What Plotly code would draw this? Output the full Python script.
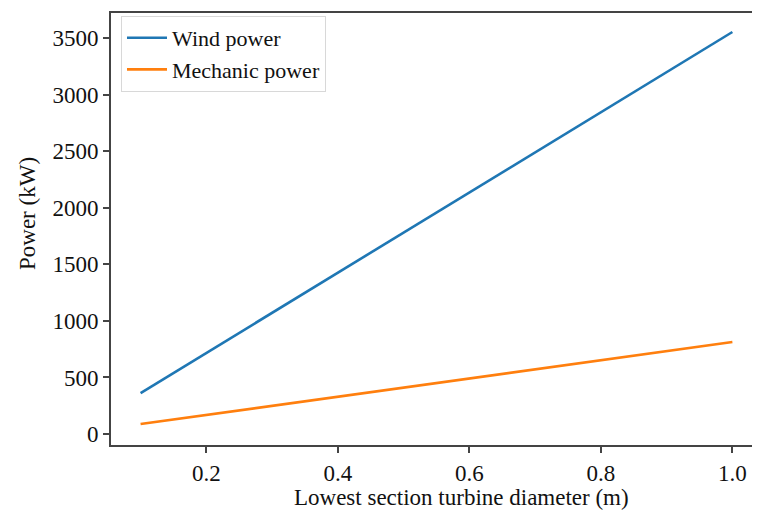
import plotly.graph_objects as go

diameter = [0.1, 0.2, 0.3, 0.4, 0.5, 0.6, 0.7, 0.8, 0.9, 1.0]
wind_power = [362, 717, 1071, 1426, 1780, 2135, 2490, 2844, 3199, 3553]
mechanic_power = [88, 169, 249, 330, 410, 491, 571, 652, 732, 813]
x_ticks = [0.2, 0.4, 0.6, 0.8, 1.0]
x_tick_labels = ["0.2", "0.4", "0.6", "0.8", "1.0"]
y_ticks = [0, 500, 1000, 1500, 2000, 2500, 3000, 3500]
y_tick_labels = ["0", "500", "1000", "1500", "2000", "2500", "3000", "3500"]

FONT = "Liberation Serif, Times New Roman, serif"
AX = "#444444"
FS = 23

fig = go.Figure()
fig.add_trace(go.Scatter(x=diameter, y=wind_power, mode="lines", name="Wind power",
                         line=dict(color="#1f77b4", width=2.6)))
fig.add_trace(go.Scatter(x=diameter, y=mechanic_power, mode="lines", name="Mechanic power",
                         line=dict(color="#ff7f0e", width=2.6)))

fig.update_layout(
    width=752, height=508,
    margin=dict(l=103, r=0, t=5, b=71, autoexpand=False),
    paper_bgcolor="white", plot_bgcolor="white",
    font=dict(family=FONT, size=FS, color="#111111"),
    showlegend=True,
    legend=dict(x=0.0154, y=0.993, xanchor="left", yanchor="top",
                bgcolor="white", bordercolor="#d8d8d8", borderwidth=1,
                font=dict(size=22), tracegroupgap=0, itemwidth=40,
                entrywidth=240, entrywidthmode="pixels"),
    xaxis=dict(range=[0.055, 1.042], tickvals=x_ticks, ticktext=x_tick_labels,
               automargin=False,
               showgrid=False, zeroline=False, showline=True, linecolor=AX, linewidth=2,
               mirror=True, ticks="outside", ticklen=6, tickwidth=1.5, tickcolor=AX,
               tickfont=dict(size=FS)),
    yaxis=dict(range=[-97, 3721], tickvals=y_ticks, ticktext=y_tick_labels,
               automargin=False,
               showgrid=False, zeroline=False, showline=True, linecolor=AX, linewidth=2,
               mirror=False, ticks="outside", ticklen=6, tickwidth=1.5, tickcolor=AX,
               tickfont=dict(size=FS)),
    annotations=[
        dict(text="Lowest section turbine diameter (m)", xref="paper", yref="paper",
             x=(461 - 111) / 649, y=-(497 - 445) / 432, xanchor="center", yanchor="middle",
             showarrow=False, font=dict(size=FS)),
        dict(text="Power (kW)", xref="paper", yref="paper",
             x=-(111 - 27) / 649, y=(445 - 214) / 432, xanchor="center", yanchor="middle",
             textangle=-90, showarrow=False, font=dict(size=FS)),
    ],
)

fig.write_html("out.html")
